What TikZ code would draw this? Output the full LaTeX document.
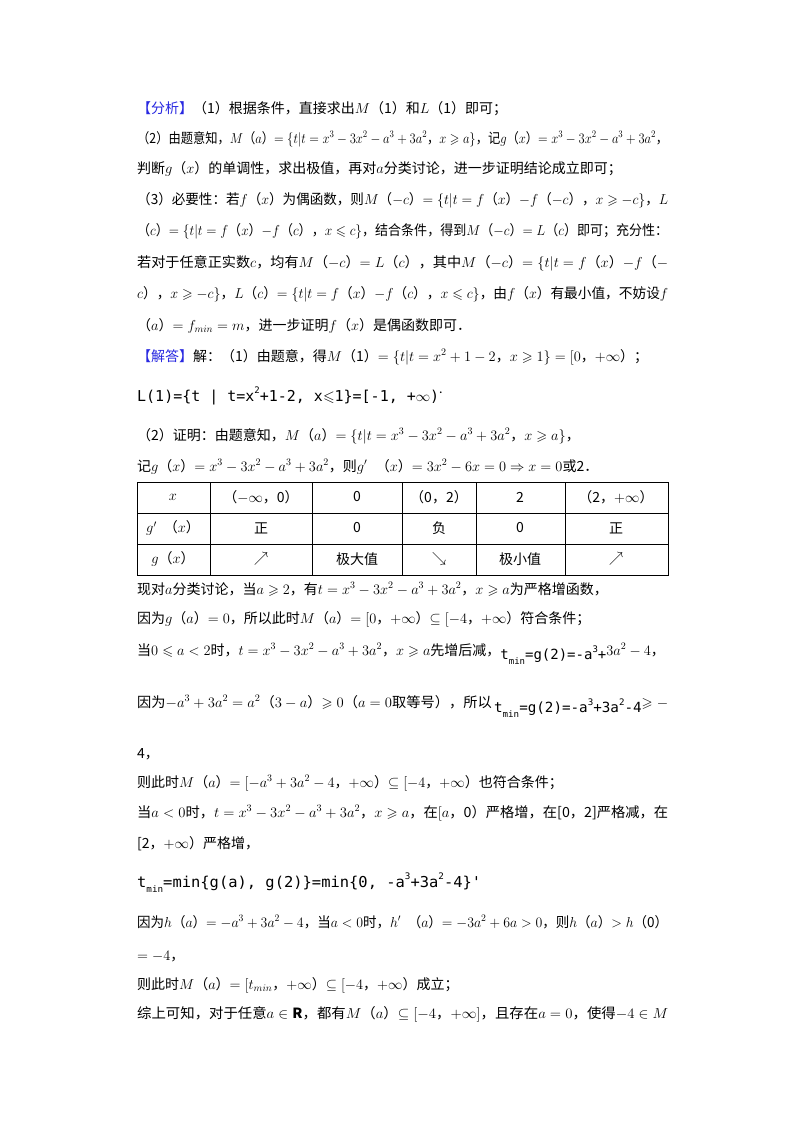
\documentclass[tikz,border=0pt]{standalone}
\usepackage{amsmath,amssymb}
\usepackage{fontspec}
\setmainfont{Noto Sans CJK SC}
\newfontfamily\sk{DejaVu Sans Mono}
\definecolor{hd}{RGB}{40,40,225}
\newcommand\tm{t\raisebox{-0.35em}{\small min}}
\newcommand\upx[1]{\raisebox{0.5em}{\small #1}}
\tikzset{ln/.style={anchor=base west,inner sep=0pt,font=\fontsize{14}{16}\selectfont},
  cell/.style={inner sep=0pt,font=\fontsize{14}{16}\selectfont}}
\newcommand\fit[1]{\resizebox{531pt}{\height}{#1}}
\begin{document}
\begin{tikzpicture}[x=1pt,y=-1pt]
\useasboundingbox[fill=white] (0,0) rectangle (800,1132);
\def\L{137}
\node[ln] (l1) at (\L,113) {\textcolor{hd}{【分析】}（1）根据条件，直接求出$M$（1）和$L$（1）即可；};
\node[ln] (l2) at (\L,143) {\fit{（2）由题意知，$M$（$a$）$=\{t|t=x^3-3x^2-a^3+3a^2$，$x\geqslant a\}$，记$g$（$x$）$=x^3-3x^2-a^3+3a^2$，}};
\node[ln] (l3) at (\L,173) {判断$g$（$x$）的单调性，求出极值，再对$a$分类讨论，进一步证明结论成立即可；};
\node[ln] (l4) at (\L,204) {\fit{（3）必要性：若$f$（$x$）为偶函数，则$M$（$-c$）$=\{t|t=f$（$x$）$-f$（$-c$），$x\geqslant -c\}$，$L$}};
\node[ln] (l5) at (\L,235) {\fit{（$c$）$=\{t|t=f$（$x$）$-f$（$c$），$x\leqslant c\}$，结合条件，得到$M$（$-c$）$=L$（$c$）即可；充分性：}};
\node[ln] (l6) at (\L,267) {\fit{若对于任意正实数$c$，均有$M$（$-c$）$=L$（$c$），其中$M$（$-c$）$=\{t|t=f$（$x$）$-f$（$-$}};
\node[ln] (l7) at (\L,298) {\fit{$c$），$x\geqslant -c\}$，$L$（$c$）$=\{t|t=f$（$x$）$-f$（$c$），$x\leqslant c\}$，由$f$（$x$）有最小值，不妨设$f$}};
\node[ln] (l8) at (\L,330) {（$a$）$=f_{min}=m$，进一步证明$f$（$x$）是偶函数即可．};
\node[ln] (l9) at (\L,361) {\textcolor{hd}{【解答】}解：（1）由题意，得$M$（1）$=\{t|t=x^2+1-2$，$x\geqslant 1\}=[0$，$+\infty$）；};
\node[ln] (l10) at (\L,401) {\resizebox{306pt}{\height}{\sk\fontsize{15}{16}\selectfont L(1)=\{t | t=x\upx{2}+1-2, x$\leqslant$1\}=[-1, +$\infty$)$^{\boldsymbol\cdot}$}};
\node[ln] (l11) at (\L,440) {（2）证明：由题意知，$M$（$a$）$=\{t|t=x^3-3x^2-a^3+3a^2$，$x\geqslant a\}$，};
\node[ln] (l12) at (\L,471) {记$g$（$x$）$=x^3-3x^2-a^3+3a^2$，则$g'$\hspace{0.6em}（$x$）$=3x^2-6x=0\Rightarrow x=0$或2．};
% table
\draw[line width=1pt] (137,482) rectangle (668,575);
\foreach \yy in {513,544} \draw[line width=1pt] (137,\yy) -- (668,\yy);
\foreach \xx in {210,312,402,476,565} \draw[line width=1pt] (\xx,482) -- (\xx,575);
\node[cell] (c11) at (173,497) {$x$};
\node[cell] (c12) at (261,497) {（$-\infty$，0）};
\node[cell] (c13) at (357,497) {0};
\node[cell] (c14) at (439,497) {（0，2）};
\node[cell] (c15) at (520,497) {2};
\node[cell] (c16) at (616,497) {（2，$+\infty$）};
\node[cell] (c21) at (173,528) {$g'$\hspace{0.5em}（$x$）};
\node[cell] (c22) at (261,528) {正};
\node[cell] (c23) at (357,528) {0};
\node[cell] (c24) at (439,528) {负};
\node[cell] (c25) at (520,528) {0};
\node[cell] (c26) at (616,528) {正};
\node[cell] (c31) at (173,559) {$g$（$x$）};
\node[cell] (c32) at (261,559) {$\nearrow$};
\node[cell] (c33) at (357,559) {极大值};
\node[cell] (c34) at (439,559) {$\searrow$};
\node[cell] (c35) at (520,559) {极小值};
\node[cell] (c36) at (616,559) {$\nearrow$};
\node[ln] (l13) at (\L,594) {现对$a$分类讨论，当$a\geqslant 2$，有$t=x^3-3x^2-a^3+3a^2$，$x\geqslant a$为严格增函数，};
\node[ln] (l14) at (\L,623) {因为$g$（$a$）$=0$，所以此时$M$（$a$）$=[0$，$+\infty$）$\subseteq[-4$，$+\infty$）符合条件；};
\node[ln] (l15) at (\L,655) {当$0\leqslant a<2$时，$t=x^3-3x^2-a^3+3a^2$，$x\geqslant a$先增后减，\raisebox{-0.3em}{\sk\fontsize{14}{16}\selectfont\tm=g(2)=-a\upx{3}+}$3a^2-4$，};
\node[ln] (l16) at (\L,707) {\fit{因为$-a^3+3a^2=a^2$（$3-a$）$\geqslant 0$（$a=0$取等号），所以\,\raisebox{-0.4em}{\sk\fontsize{14}{16}\selectfont\tm=g(2)=-a\upx{3}+3a\upx{2}-4}$\geqslant -$}};
\node[ln] (l17) at (\L,758) {4，};
\node[ln] (l18) at (\L,787) {则此时$M$（$a$）$=[-a^3+3a^2-4$，$+\infty$）$\subseteq[-4$，$+\infty$）也符合条件；};
\node[ln] (l19) at (\L,817) {\fit{当$a<0$时，$t=x^3-3x^2-a^3+3a^2$，$x\geqslant a$，在$[a$，0）严格增，在[0，2]严格减，在}};
\node[ln] (l20) at (\L,848) {[2，$+\infty$）严格增，};
\node[ln] (l21) at (\L,887) {\resizebox{344pt}{\height}{\sk\fontsize{15}{16}\selectfont\tm=min\{g(a), g(2)\}=min\{0, -a\upx{3}+3a\upx{2}-4\}'}};
\node[ln] (l22) at (\L,927) {\fit{因为$h$（$a$）$=-a^3+3a^2-4$，当$a<0$时，$h'$\hspace{0.5em}（$a$）$=-3a^2+6a>0$，则$h$（$a$）$>h$（0）}};
\node[ln] (l23) at (\L,960) {$=-4$，};
\node[ln] (l24) at (\L,989) {则此时$M$（$a$）$=[t_{min}$，$+\infty$）$\subseteq[-4$，$+\infty$）成立；};
\node[ln] (l25) at (\L,1018) {\fit{综上可知，对于任意$a\in\mathbf{R}$，都有$M$（$a$）$\subseteq[-4$，$+\infty]$，且存在$a=0$，使得$-4\in M$}};
\end{tikzpicture}
\end{document}
